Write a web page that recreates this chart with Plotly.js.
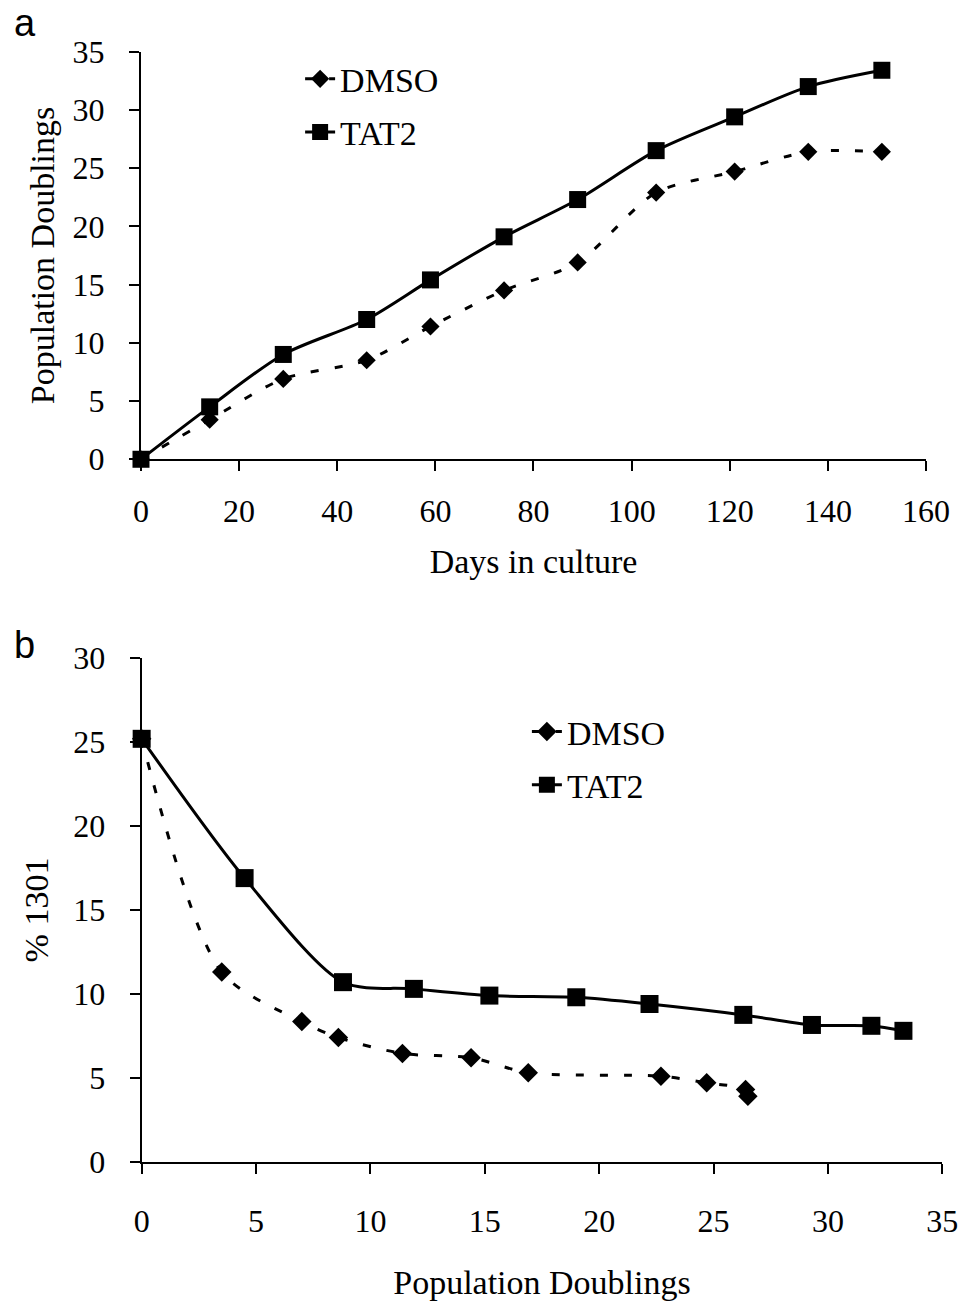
<!DOCTYPE html>
<html>
<head>
<meta charset="utf-8">
<script src="https://cdn.plot.ly/plotly-3.0.1.min.js"></script>
<style>html,body{margin:0;padding:0;background:#fff;}#chart{width:965px;height:1304px;}</style>
</head>
<body>
<div id="chart"></div>
<script>
// Panel a: population doublings vs days in culture
const daysInCulture = [0, 14, 29, 46, 59, 74, 89, 105, 121, 136, 151];
const dmsoDoublings = [0, 3.4, 6.9, 8.5, 11.4, 14.5, 16.9, 22.9, 24.7, 26.4, 26.4];
const tat2Doublings = [0, 4.5, 9.0, 12.0, 15.4, 19.1, 22.3, 26.5, 29.4, 32.0, 33.4];

// Panel b: % 1301 vs population doublings
const dmsoPdB = [0, 3.5, 7.0, 8.6, 11.4, 14.4, 16.9, 22.7, 24.7, 26.4, 26.5];
const dmso1301 = [25.2, 11.3, 8.35, 7.4, 6.45, 6.2, 5.3, 5.1, 4.7, 4.3, 3.9];
const tat2PdB = [0, 4.5, 8.8, 11.9, 15.2, 19.0, 22.2, 26.3, 29.3, 31.9, 33.3];
const tat21301 = [25.2, 16.9, 10.7, 10.3, 9.9, 9.8, 9.4, 8.75, 8.15, 8.1, 7.8];

const xTicksA = [0, 20, 40, 60, 80, 100, 120, 140, 160];
const yTicksA = [0, 5, 10, 15, 20, 25, 30, 35];
const xTicksB = [0, 5, 10, 15, 20, 25, 30, 35];
const yTicksB = [0, 5, 10, 15, 20, 25, 30];

const FONT = 'Liberation Serif, Times New Roman, serif';
const dashStyle = '8px,16px';

const traces = [
  {x: daysInCulture, y: dmsoDoublings, name: 'DMSO', xaxis: 'x', yaxis: 'y', legend: 'legend', legendgroup: 'a1',
   mode: 'lines+markers', cliponaxis: false,
   line: {color: '#000', width: 3, dash: dashStyle, shape: 'spline', smoothing: 0.8},
   marker: {symbol: 'diamond', size: 14, color: '#000'}},
  {x: daysInCulture, y: tat2Doublings, name: 'TAT2', xaxis: 'x', yaxis: 'y', legend: 'legend', legendgroup: 'a2',
   mode: 'lines+markers', cliponaxis: false,
   line: {color: '#000', width: 3, shape: 'spline', smoothing: 0.8},
   marker: {symbol: 'square', size: 17, color: '#000'}},
  {x: dmsoPdB, y: dmso1301, name: 'DMSO', xaxis: 'x2', yaxis: 'y2', legend: 'legend2', legendgroup: 'b1',
   mode: 'lines+markers', cliponaxis: false,
   line: {color: '#000', width: 3, dash: dashStyle, shape: 'spline', smoothing: 0.8},
   marker: {symbol: 'diamond', size: 15, color: '#000'}},
  {x: tat2PdB, y: tat21301, name: 'TAT2', xaxis: 'x2', yaxis: 'y2', legend: 'legend2', legendgroup: 'b2',
   mode: 'lines+markers', cliponaxis: false,
   line: {color: '#000', width: 3, shape: 'spline', smoothing: 0.8},
   marker: {symbol: 'square', size: 18, color: '#000'}}
];

const axisCommon = {
  showline: true, linecolor: '#000', linewidth: 2,
  ticks: 'outside', ticklen: 10, tickwidth: 2, tickcolor: '#000',
  showgrid: false, zeroline: false, fixedrange: true,
  tickfont: {family: FONT, size: 32, color: '#000'}
};
const titleFont = {family: FONT, size: 34, color: '#000'};

const layout = {
  width: 965, height: 1304,
  margin: {l: 0, r: 0, t: 0, b: 0},
  paper_bgcolor: '#fff', plot_bgcolor: '#fff',
  font: {family: FONT, color: '#000'},
  xaxis: Object.assign({}, axisCommon, {
    domain: [0.1461, 0.9596], range: [0, 160], tickvals: xTicksA, anchor: 'y',
    ticklabelstandoff: 12,
    title: {text: 'Days in culture', font: titleFont, standoff: 22}
  }),
  yaxis: Object.assign({}, axisCommon, {
    domain: [0.6478, 0.9604], range: [0, 35], tickvals: yTicksA, anchor: 'x',
    ticklabelstandoff: 18,
    title: {text: 'Population Doublings', font: titleFont, standoff: 8}
  }),
  xaxis2: Object.assign({}, axisCommon, {
    domain: [0.1468, 0.9765], range: [0, 35], tickvals: xTicksB, anchor: 'y2',
    ticklabelstandoff: 20,
    title: {text: 'Population Doublings', font: titleFont, standoff: 32}
  }),
  yaxis2: Object.assign({}, axisCommon, {
    domain: [0.1091, 0.4952], range: [0, 30], tickvals: yTicksB, anchor: 'x2',
    ticklabelstandoff: 18,
    title: {text: '% 1301', font: titleFont, standoff: 14}
  }),
  legend: {
    x: 0.311, y: 0.9615, xanchor: 'left', yanchor: 'top',
    bgcolor: 'rgba(0,0,0,0)', borderwidth: 0, tracegroupgap: 6,
    traceorder: 'grouped',
    font: {family: FONT, size: 34, color: '#000'}
  },
  legend2: {
    x: 0.546, y: 0.461, xanchor: 'left', yanchor: 'top',
    bgcolor: 'rgba(0,0,0,0)', borderwidth: 0, tracegroupgap: 6,
    traceorder: 'grouped',
    font: {family: FONT, size: 34, color: '#000'}
  },
  annotations: [
    {text: 'a', xref: 'paper', yref: 'paper', x: 0.012, y: 1.0, xanchor: 'left', yanchor: 'top',
     showarrow: false, font: {family: 'Liberation Sans, Arial, sans-serif', size: 38, color: '#000'}},
    {text: 'b', xref: 'paper', yref: 'paper', x: 0.012, y: 0.523, xanchor: 'left', yanchor: 'top',
     showarrow: false, font: {family: 'Liberation Sans, Arial, sans-serif', size: 38, color: '#000'}}
  ]
};

Plotly.newPlot('chart', traces, layout, {displayModeBar: false, staticPlot: true});
</script>
</body>
</html>
